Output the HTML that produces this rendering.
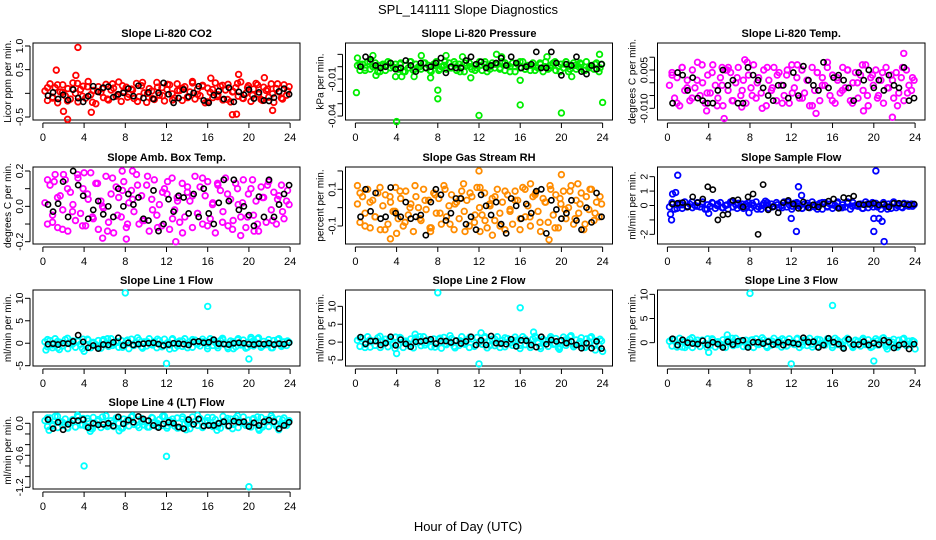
<!DOCTYPE html>
<html><head><meta charset="utf-8">
<style>
html,body{margin:0;padding:0;background:#fff;}
svg{display:block;font-family:"Liberation Sans",Arial,sans-serif;}
</style></head>
<body>
<svg id="chart" width="936" height="540" viewBox="0 0 936 540" xmlns="http://www.w3.org/2000/svg">
<text x="468" y="14" text-anchor="middle" font-size="13">SPL_141111  Slope Diagnostics</text>
<text x="468" y="531" text-anchor="middle" font-size="13">Hour of Day (UTC)</text>
</svg>
<script>
const hourTicks=[0,4,8,12,16,20,24];

// Panel 1: CO2 (ppm/min)
const co2Band=[.05,-.15,.2,-.08,.12,-.2,.03,.18,-.05,.1,-.12,.22,0,-.18,.08,.15,-.1,.25,-.03,.06,-.22,.14,.02,-.09,.19,-.14,.07,.11,-.06,.24,-.17,.04,.13,-.02,.09,-.11,.21,-.07,.16,.01,-.19,.1,.05,-.13,.23,-.04,.12,-.16,.08,.18,-.01,-.1,.2,.06,-.15,.14,-.08,.03,.25,-.12,.09,-.05,.17,-.2,.11,.02,-.09,.22,-.03,.15,-.14,.07,.19,-.18,.04,.12,-.06,.24,-.11,0,.16,-.17,.09,.21,-.02,-.13,.13,.06,-.08,.2,-.19,.1,.03,-.1,.18,-.04,.14];
const co2Band2=[.12,-.1,.18,.02,-.16,.09,.21,-.06,.14,-.19,.04,.1,-.12,.2,-.03,.16,-.08,.07,-.17,.23,.0,-.11,.13,-.05,.19,-.14,.06,.11,-.09,.22,-.02,.15,-.18,.08,-.07,.17,-.13,.03,.21,-.1,.12,-.04,.18,-.15,.09,-.01,.2,-.12,.05];
const co2OutX=[3.4,1.3,2.4,2.0,4.7,18.4,18.8,19.0,3.2,16.3,21.5,22.3];
const co2OutY=[.97,.49,-.55,-.38,-.4,-.45,-.44,.4,.38,.32,.33,-.36];
const co2Black=[-.05,.02,-.12,-.03,-.14,.08,-.1,-.18,-.06,.15,.03,.12,.14,-.08,-.02,.01,.1,-.06,.16,-.1,.02,-.12,.01,.22,-.02,-.2,-.1,.08,-.07,.01,.15,-.15,-.2,-.04,.05,-.12,.12,-.18,.03,-.03,.08,-.11,.02,-.15,-.16,-.09,.04,.1,-.02];

// Panel 2: Pressure (kPa/min)
const presBand=[.001,-.003,.002,-.001,.004,-.002,0,.003,-.004,.001,.002,-.003,.004,-.001,0,.002,-.002,.003,-.004,.001,-.001,.004,-.003,.002,0,-.002,.003,-.001,.001,-.004,.002,.004,-.003,0,.001,-.002,.003,-.001,.004,-.003,.002,0,-.004,.001,.003,-.002,.001,-.001,.004,-.003,.002,-.004,0,.003,-.001,.002,-.002,.004,-.003,.001,0,.003,-.004,.002,-.001,.004,-.002,.001,-.003,.003,0,-.001,.002,-.004,.004,-.002,.001,.003,-.003,0,.002,-.001,.004,-.004,.001,.003,-.002,0,.002,-.003,.004,-.001,.001,-.002,.003,-.004,.002];
const presBand2=[.002,-.003,.004,.0,-.004,.001,.003,-.001,.002,-.004,.004,-.002,.0,.003,-.003,.001,-.002,.004,-.001,.002,-.004,.003,.0,-.003,.001,.004,-.002,.002,-.001,.003,-.004,.0,.004,-.002,.001,-.003,.003,.0,-.001,.004,-.004,.002,-.002,.001,.003,-.003,.0,.002,-.001];
const presOutX=[0.1,0.2,1.7,4.0,4.5,3.9,8.0,8.0,8.8,12.0,11.2,13.7,14.2,16.0,16.0,20.0,23.7,24.0,6.4,2.0,5.7,7.3,10.4,18.6,21.0];
const presOutY=[-.021,.007,.009,-.0445,-.008,-.008,-.019,-.026,.009,-.0395,-.009,.010,.008,-.031,-.011,-.0375,.010,-.029,.009,-.007,-.008,-.009,.008,.008,-.008];
const presBlack=[0,.008,.006,.001,-.001,0,.003,-.002,-.001,.005,.001,-.004,.003,-.001,0,.003,.007,-.005,0,-.001,-.001,.005,.008,.002,.004,-.001,.001,.003,.007,.001,.008,.003,-.001,0,.002,.012,-.001,-.001,.012,.003,-.007,.002,.001,.008,-.004,-.006,.001,-.002,.002];

// Panel 3: Li-820 Temp (deg C/min)
const tempBand=[-.001,.004,-.006,.002,-.009,.006,-.003,.001,-.007,.005,-.002,.008,-.005,0,-.008,.003,-.004,.007,-.001,-.006,.002,-.009,.005,-.003,.004,-.007,0,.006,-.005,.001,-.008,.003,-.002,.007,-.006,.002,-.004,.005,-.009,.001,-.003,.006,-.007,.004,-.001,-.005,.003,-.008,.007,-.002,.002,-.006,.005,-.004,.001,-.009,.006,-.003,.004,-.007,.002,-.001,.008,-.005,.003,-.008,.001,-.004,.006,-.002,.005,-.007,0,.004,-.006,.003,-.003,.007,-.009,.002,-.001,.005,-.005,.001,-.008,.006,-.002,.003,-.006,.004,-.004,.002,-.007,.005,-.001,-.003,.001];
const tempBand2=[.003,-.008,.006,-.002,-.006,.001,.007,-.004,.004,-.009,-.001,.005,-.007,.002,-.003,.008,-.005,.0,-.01,.006,-.002,.003,-.008,.005,-.004,.007,-.006,.001,-.009,.004,-.001,.006,-.007,.002,-.003,.005,-.008,.0,.007,-.005,.003,-.006,.004,-.002,.001,-.009,.006,-.004,.002];
const tempOutX=[5.5,21.8,22.9,7.5,3.8,14.4,19.0,7.2,5.3,5.9];
const tempOutY=[-.014,-.0135,.0115,.009,-.011,-.012,-.011,-.0095,.006,.006];
const tempBlack=[-.008,.004,.003,-.003,.002,-.006,-.007,-.008,-.008,-.003,.005,-.001,.001,-.008,-.008,.006,.003,.001,-.002,-.005,-.007,-.001,-.001,-.006,.004,-.005,.0065,.001,-.001,-.003,.008,-.002,.002,.003,.001,-.002,-.007,.004,.001,.005,-.002,.001,-.003,.003,-.001,-.002,.006,-.007,-.006];

// Panel 4: Amb. Box Temp (deg C/min)
const ambBand=[.02,-.1,.12,-.05,.18,-.12,.06,-.02,.15,-.14,.08,.01,-.08,.16,-.04,.1,-.11,.04,.19,-.07,.13,-.13,.03,-.01,.17,-.09,.07,-.15,.11,.05,-.06,.14,-.12,.02,.09,-.03,.18,-.1,.06,-.08,.12,-.14,.04,.15,-.05,.01,-.11,.1,.07,-.13,.16,-.02,.05,-.09,.13,-.06,.08,.03,-.12,.17,-.04,.11,-.1,.06,.14,-.07,.02,-.15,.12,.09,-.03,.16,-.11,.04,-.08,.13,.01,-.06,.15,-.12,.07,.1,-.05,.03,-.14,.11,.05,-.09,.14,-.02,.08,-.1,.06,.12,-.07,.03,.01];
const ambBand2=[.15,-.09,.05,-.13,.1,-.03,.18,-.11,.07,-.06,.13,.0,-.14,.16,-.05,.09,-.1,.04,.12,-.08,.17,-.02,-.12,.08,.14,-.07,.03,-.15,.11,.06,-.04,.16,-.11,.01,.13,-.09,.07,-.13,.1,.02,-.06,.15,-.1,.05,.12,-.08,.04,-.03,.09];
const ambOutX=[2.0,4.0,8.7,7.7,5.8,12.9,19.2,8.1,1.1,20.5];
const ambOutY=[.18,.19,.2,.2,-.18,-.2,-.165,-.185,.14,-.14];
const ambBlack=[.01,-.03,.015,.14,-.06,.2,.12,.06,-.07,-.02,.03,-.045,.0,-.06,.1,.0,.07,.01,.05,-.07,-.08,.09,-.14,-.1,.04,-.03,.06,.05,-.04,.07,-.06,.1,-.04,-.1,.02,.15,.03,.15,-.02,.0,-.05,-.11,.055,-.06,.15,-.06,.01,.07,.12];

// Panel 5: Gas Stream RH (percent/min)
const rhBand=[.02,-.08,.06,-.03,.1,-.11,.04,-.05,.08,-.12,.01,.07,-.09,.03,-.02,.11,-.06,.05,-.1,.09,-.04,.02,-.13,.06,.0,-.07,.1,-.01,.04,-.11,.08,-.03,.05,-.09,.12,-.05,.01,.07,-.12,.03,-.06,.09,-.02,.04,-.1,.06,-.08,.11,.0,-.04,.08,-.11,.02,.05,-.07,.1,-.03,.03,-.12,.07,-.01,-.09,.09,.04,-.06,.11,-.05,.01,-.1,.06,.08,-.02,-.13,.05,.03,-.08,.1,-.04,.07,-.11,.02,.09,-.06,.0,.12,-.09,.04,-.03,.08,-.12,.06,-.01,.1,-.07,.03,-.05,.02];
const rhBand2=[.08,-.1,.03,-.05,.11,-.12,.06,-.02,.09,-.08,.0,.12,-.06,.04,-.11,.07,-.03,.1,-.09,.02,.05,-.13,.08,-.04,.11,-.07,.01,.06,-.1,.09,-.02,.04,-.12,.1,-.05,.07,-.08,.03,.12,-.11,.05,-.01,.09,-.06,.02,-.09,.1,-.03,.06];
const rhOutX=[12.0,20.0,3.4,18.8,4.0,21.6,0.2,10.5,17.0,12.1,13.3,7.3];
const rhOutY=[.2,.18,-.17,-.175,-.14,.13,.12,.13,.13,-.13,-.15,-.13];
const rhBlack=[-.05,.1,-.02,.08,-.06,-.05,.11,-.03,-.05,.03,-.06,-.05,-.04,-.15,.03,.1,.07,-.07,-.03,.05,.05,-.09,-.05,-.12,.07,.01,-.04,.03,-.09,-.14,.05,.01,-.06,.02,-.03,.09,.1,-.14,.04,-.01,-.06,-.03,.04,-.07,-.12,.0,-.08,.08,-.05];

// Panel 6: Sample Flow (mL/min/min)
const sfBand=[-.1,.2,-.25,.05,.15,-.2,.25,-.05,.1,-.15,0,.2,-.1,.25,-.25,.05,-.05,.15,-.2,.1,.2,-.15,0,-.25,.25,-.1,.05,.15,-.05,-.2,.1,.2,-.15,0,.25,-.1,-.25,.15,.05,-.2,.1,-.05,.2,-.15,0,.25,-.1,.05,-.25,.15,.2,-.05,-.2,.1,0,-.15,.25,-.1,.05,.15,-.25,.2,-.05,.1,-.2,0,.25,-.15,.05,-.1,.15,-.25,.2,0,-.05,.1,-.2,.25,-.15,.05,-.1,.15,0,-.25,.2,-.05,.1,-.2,.25,-.15,.05,-.1,.15,0,-.05,.1,.05];
const sfBand2=[.15,-.2,.05,-.1,.25,-.05,.1,-.25,.2,0,-.15,.05,.25,-.2,.1,-.05,.15,-.25,0,.2,-.1,.05,-.15,.25,-.05,.1,-.2,.15,0,-.25,.2,-.1,.05,.15,-.15,.25,-.05,0,-.2,.1,.2,-.1,.05,-.25,.15,0,-.15,.1,-.05];
const sfOutX=[1.0,20.2,21.0,12.5,20.0,0.4,0.5,12.7,0.8,4.0,12.0,20.0,20.5,20.8,13.0,0.3,9.5,7.9];
const sfOutY=[2.1,2.4,-2.5,-1.8,-1.8,-1.0,.8,1.3,.9,-.55,-.9,-.9,-.9,-1.1,.7,-.6,.3,-.5];
const sfBlack=[.1,.15,.2,-.1,.6,.2,.45,1.3,1.1,-1.0,-.65,-.6,.35,.4,-.1,.6,.8,-2.0,1.45,-.3,-.1,-.5,.2,.35,.1,-.2,.25,-.15,.05,-.1,.1,.3,.45,-.2,.55,.5,.65,.1,.05,.1,.15,.05,.1,-.1,.15,.15,.1,.05,.1];

// Panel 7: Line 1 Flow
const l1Band=[.3,-.8,.6,-.4,1,-1,.2,-.6,.8,-1.2,.1,.5,-.9,.4,-.2,.9,-.5,.7,-1,.2,-.3,.6,-1.1,.8,0,-.7,1,-.1,.4,-.9,.6,-.3,.5,-1.2,.9,-.5,.1,.7,-.8,.3,-.6,1,-.2,.4,-1,.6,-.8,.9,0,-.4,.8,-1.1,.2,.5,-.7,1,-.3,.3,-.9,.7,-.1,-.6,.9,.4,-.6,1,-.5,.1,-1,.6,.8,-.2,-1.2,.5,.3,-.8,1,-.4,.7,-1.1,.2,.9,-.6,0,1.2,-.9,.4,-.3,.8,-1,.6,-.1,1,-.7,.3,-.5,.2];
const l1Band2=[.8,-1,.4,-.6,1.1,-.2,.6,-1.2,.9,0,-.8,.5,1,-.5,.2,-.9,.7,-.3,1.2,-1.1,.3,-.4,.9,-.7,.1,1,-.6,.5,-1,.8,-.2,.3,-1.2,.6,-.5,1.1,-.8,.2,.7,-.3,-.9,.4,1,-.6,.1,-1,.8,-.4,.5];
const l1OutX=[8.0,16.0,12.0,20.0,4.0,1.6,12.3,20.2,0.3,18.5];
const l1OutY=[11.2,8.2,-4.5,-3.5,-1.8,-1.4,-1.3,1.3,-1.5,-1.2];
const l1Black=[-.2,-.1,-.3,0,-.1,.4,1.8,.3,-1,-.5,-1.2,-.3,-.4,.2,1.2,-.5,.1,-.4,-.2,-.1,0,.1,-.2,-.5,-.3,0,-.1,-.2,-.4,.3,.4,.1,.2,.8,-.1,-.2,-.3,0,.1,0,-.2,-.3,-.1,-.2,0,-.3,-.1,-.2,.1];

// Panel 8: Line 2 Flow
const l2Band=[.5,-1.2,1,-.6,1.5,-1.4,.3,-.9,1.2,-1.5,.1,.8,-1.3,.6,-.3,1.4,-.8,1.1,-1.5,.3,-.4,.9,-1.6,1.2,0,-1,1.5,-.2,.6,-1.3,.9,-.5,.8,-1.7,1.3,-.7,.2,1,-1.2,.4,-.9,1.5,-.3,.6,-1.5,.9,-1.2,1.3,0,-.6,1.2,-1.6,.3,.8,-1,1.5,-.4,.5,-1.3,1,-.2,-.9,1.4,.6,-.9,1.5,-.7,.2,-1.5,.9,1.2,-.3,-1.8,.8,.4,-1.2,1.5,-.6,1,-1.6,.3,1.4,-.9,0,1.8,-1.3,.6,-.5,1.2,-1.5,.9,-.2,1.5,-1,.4,-.8,.3];
const l2Band2=[1.2,-1.5,.6,-.9,1.6,-.3,.9,-1.8,1.3,0,-1.2,.7,1.5,-.8,.3,-1.4,1.1,-.5,1.8,-1.6,.4,-.6,1.4,-1,.2,1.5,-.9,.8,-1.5,1.2,-.3,.5,-1.8,.9,-.8,1.6,-1.2,.3,1,-.5,-1.3,.6,1.5,-.9,.2,-1.5,1.2,-.6,.8];
const l2OutX=[8.0,16.0,12.0,4.0,5.8,12.2,17.3,24.0,23.3,19.8];
const l2OutY=[13.8,9.6,-6.1,-3.2,2.2,2.6,2.8,-2.6,-2.2,-2.0];
const l2Black=[1.4,-.5,.3,.3,-.8,-.3,1.5,-.9,.7,-.5,-1.3,.1,.2,.4,.8,-.4,.3,.3,-.1,.4,-.4,.2,1.5,-.8,.5,-.8,1.7,-.3,-.4,-.6,.8,-1.2,.5,.4,-.8,-1.4,1.5,-.6,.6,.2,.5,-.3,.2,-.8,-1.7,-.3,-1.7,.2,-1.8];

// Panel 9: Line 3 Flow
const l3Band=[.3,-.7,.6,-.4,.9,-.9,.2,-.5,.7,-1,.1,.5,-.8,.4,-.2,.8,-.5,.6,-.9,.2,-.3,.6,-1,.7,0,-.6,.9,-.1,.4,-.8,.5,-.3,.5,-1,.8,-.4,.1,.6,-.7,.3,-.5,.9,-.2,.4,-.9,.5,-.7,.8,0,-.4,.7,-1,.2,.5,-.6,.9,-.3,.3,-.8,.6,-.1,-.5,.8,.4,-.5,.9,-.4,.1,-.9,.5,.7,-.2,-1,.5,.3,-.7,.9,-.4,.6,-1,.2,.8,-.5,0,1,-.8,.4,-.3,.7,-.9,.5,-.1,.9,-.6,.3,-.4,.2];
const l3Band2=[.7,-.9,.3,-.5,1,-.2,.5,-1,.8,0,-.7,.4,.9,-.4,.2,-.8,.6,-.3,1,-1,.3,-.4,.8,-.6,.1,.9,-.5,.4,-.9,.7,-.2,.3,-1,.5,-.4,.9,-.7,.2,.6,-.3,-.8,.4,.9,-.5,.1,-.9,.7,-.3,.4];
const l3OutX=[8.0,16.0,12.0,20.0,4.0,5.8,21.3,24.0,1.7,2.4];
const l3OutY=[10.2,7.7,-4.4,-3.8,-2.0,1.6,-1.3,-1.3,-1.0,1.0];
const l3Black=[.8,-.5,.6,0,-.2,-.3,.4,-.5,.1,-.3,-1,.2,-.4,.3,.5,-1,.1,.1,-.2,.2,-.4,.1,-.5,.1,-.1,-.3,1,.1,.2,-1,-.5,.9,.1,-.3,-1.2,.7,-.4,-.4,.2,-.5,-.1,-.4,.5,.1,-1.1,-.5,-.3,-1.3,-.3];

// Panel 10: Line 4 (LT) Flow
const l4Band=[.05,-.06,.1,-.02,.13,-.08,.03,-.04,.08,-.09,.01,.06,-.07,.12,-.03,.09,-.05,.04,-.1,.11,-.01,.07,-.08,.02,.14,-.04,.05,-.06,.1,.0,-.09,.08,.03,-.05,.12,-.02,.06,-.08,.09,-.03,.04,-.07,.11,.01,-.06,.07,-.04,.13,-.09,.05,.02,-.05,.1,-.08,.08,-.01,.06,-.1,.12,.03,-.04,.09,-.07,.04,.11,-.03,-.06,.07,.0,-.09,.13,.05,-.05,.08,-.02,.1,-.08,.03,.12,-.04,.06,-.07,.09,.01,-.1,.11,-.03,.07,-.06,.14,.02,-.05,.08,-.01,.1,-.04,.05];
const l4Band2=[.1,-.05,.13,.02,-.08,.07,.15,-.03,.09,-.1,.04,.12,-.06,.01,.11,-.09,.06,.14,-.04,.03,-.07,.1,.0,.13,-.05,.08,-.09,.12,.02,-.02,.15,-.08,.05,.11,-.06,.03,.09,-.1,.14,.01,-.04,.07,.12,-.07,.04,.1,-.03,.06,.0];
const l4OutX=[4.0,12.0,20.0,0.6,7.4,13.9,16.9,21.0,4.6,22.9];
const l4OutY=[-.8,-.62,-1.19,-.13,-.14,-.12,-.13,-.13,-.15,-.12];
const l4Black=[.07,-.1,.02,-.12,-.02,.05,.05,.07,-.08,.0,-.03,-.02,.0,-.05,.12,-.01,.06,.02,.13,.08,.05,-.04,-.08,-.01,.02,0,-.07,-.1,.07,-.02,.08,-.05,-.04,-.04,0,.03,-.05,.04,.02,.03,-.06,.01,-.04,.03,.06,.03,-.1,-.04,.02];

const colLeft=[33,345.5,657.5];
const colRight=[300,612.5,925];
const rowTop=[43,167,290,412];
const rowBottom=[120,244,366,489];

const panels=[
 {id:'co2',title:'Slope Li-820 CO2',ylab:'Licor ppm per min.',col:0,row:0,ymin:-.563,ymax:1.063,ticks:[1,.5,0,-.5],labels:['1.0','0.5','','-0.5'],color:'#ff0000',band:co2Band,band2:co2Band2,ox:co2OutX,oy:co2OutY,black:co2Black},
 {id:'pressure',title:'Slope Li-820 Pressure',ylab:'kPa per min.',col:1,row:0,ymin:-.0432,ymax:.0192,ticks:[.01,0,-.01,-.02,-.03,-.04],labels:['','','-0.01','','','-0.04'],color:'#00ee00',band:presBand,band2:presBand2,ox:presOutX,oy:presOutY,black:presBlack},
 {id:'temp',title:'Slope Li-820 Temp.',ylab:'degrees C per min.',col:2,row:0,ymin:-.01458,ymax:.01557,ticks:[.01,.005,0,-.005,-.01],labels:['','0.005','','','-0.010'],color:'#ff00ff',band:tempBand,band2:tempBand2,ox:tempOutX,oy:tempOutY,black:tempBlack},
 {id:'amb',title:'Slope Amb. Box Temp.',ylab:'degrees C per min.',col:0,row:1,ymin:-.213,ymax:.2226,ticks:[.2,.1,0,-.1,-.2],labels:['0.2','','0.0','','-0.2'],color:'#ff00ff',band:ambBand,band2:ambBand2,ox:ambOutX,oy:ambOutY,black:ambBlack},
 {id:'rh',title:'Slope Gas Stream RH',ylab:'percent per min.',col:1,row:1,ymin:-.198,ymax:.2215,ticks:[.2,.1,0,-.1],labels:['','0.1','','-0.1'],color:'#ff8c00',band:rhBand,band2:rhBand2,ox:rhOutX,oy:rhOutY,black:rhBlack},
 {id:'sample-flow',title:'Slope Sample Flow',ylab:'ml/min per min.',col:2,row:1,ymin:-2.67,ymax:2.67,ticks:[2,1,0,-1,-2],labels:['2','1','0','','-2'],color:'#0000ff',band:sfBand,band2:sfBand2,ox:sfOutX,oy:sfOutY,black:sfBlack},
 {id:'line1',title:'Slope Line 1 Flow',ylab:'ml/min per min.',col:0,row:2,ymin:-5.07,ymax:11.85,ticks:[10,5,0,-5],labels:['10','5','0','-5'],color:'#00ffff',band:l1Band,band2:l1Band2,ox:l1OutX,oy:l1OutY,black:l1Black},
 {id:'line2',title:'Slope Line 2 Flow',ylab:'ml/min per min.',col:1,row:2,ymin:-6.68,ymax:14.57,ticks:[10,5,0,-5],labels:['10','5','0','-5'],color:'#00ffff',band:l2Band,band2:l2Band2,ox:l2OutX,oy:l2OutY,black:l2Black},
 {id:'line3',title:'Slope Line 3 Flow',ylab:'ml/min per min.',col:2,row:2,ymin:-4.83,ymax:10.9,ticks:[10,5,0],labels:['10','5','0'],color:'#00ffff',band:l3Band,band2:l3Band2,ox:l3OutX,oy:l3OutY,black:l3Black},
 {id:'line4',title:'Slope Line 4 (LT) Flow',ylab:'ml/min per min.',col:0,row:3,ymin:-1.232,ymax:.212,ticks:[0,-.2,-.4,-.6,-.8,-1,-1.2],labels:['0.0','','','-0.6','','','-1.2'],color:'#00ffff',band:l4Band,band2:l4Band2,ox:l4OutX,oy:l4OutY,black:l4Black}
];

const NS='http://www.w3.org/2000/svg';
const svg=document.getElementById('chart');
function mk(tag,attrs,parent){const e=document.createElementNS(NS,tag);for(const k in attrs)e.setAttribute(k,attrs[k]);(parent||svg).appendChild(e);return e;}

panels.forEach(p=>{
 const L=colLeft[p.col],R=colRight[p.col],T=rowTop[p.row],B=rowBottom[p.row];
 const xs=h=>L+(h+0.96)/25.92*(R-L);
 const ys=v=>B-(v-p.ymin)/(p.ymax-p.ymin)*(B-T);
 const g=mk('g',{});
 
 
 const t=mk('text',{x:(L+R)/2,y:T-6,'text-anchor':'middle','font-size':'11','font-weight':'bold'},g);
 t.textContent=p.title;
 
 
 const yl=mk('text',{transform:`translate(${L-22},${(T+B)/2}) rotate(-90)`,'text-anchor':'middle','font-size':'10'},g);
 yl.textContent=p.ylab;
 
 
 const xa=mk('g',{},g);
 
 
 mk('line',{x1:xs(0),x2:xs(24),y1:B+3,y2:B+3,stroke:'#000','stroke-width':1},xa);
 hourTicks.forEach(h=>{
  mk('line',{x1:xs(h),x2:xs(h),y1:B+3,y2:B+8,stroke:'#000','stroke-width':1},xa);
  const tl=mk('text',{x:xs(h),y:B+21,'text-anchor':'middle','font-size':'11'},xa);
  tl.textContent=h;
  
  
 });
 const ya=mk('g',{},g);
 
 
 mk('line',{x1:L-3,x2:L-3,y1:ys(p.ticks[0]),y2:ys(p.ticks[p.ticks.length-1]),stroke:'#000','stroke-width':1},ya);
 p.ticks.forEach((v,i)=>{
  const y=ys(v);
  mk('line',{x1:L-8,x2:L-3,y1:y,y2:y,stroke:'#000','stroke-width':1},ya);
  if(p.labels[i]){
   const tl=mk('text',{transform:`translate(${L-10},${y}) rotate(-90)`,'text-anchor':'middle','font-size':'10.5'},ya);
   tl.textContent=p.labels[i];
   
   
  }
 });
 const box=mk('rect',{x:L,y:T,width:R-L,height:B-T,fill:'none',stroke:'#000','stroke-width':1},g);
 
 
 const pts=mk('g',{fill:'none'},g);
 
 
 const n=p.band.length;
 p.band.forEach((v,i)=>{
  const h=0.2+i*23.7/(n-1);
  const c=mk('circle',{cx:xs(h),cy:ys(v),r:2.8,stroke:p.color,'stroke-width':1.8},pts);
  
  
 });
 const n2=p.band2.length;
 p.band2.forEach((v,i)=>{
  const h=0.45+i*23.3/(n2-1);
  const c=mk('circle',{cx:xs(h),cy:ys(v),r:2.8,stroke:p.color,'stroke-width':1.8},pts);
  
  
 });
 p.ox.forEach((h,i)=>{
  const c=mk('circle',{cx:xs(h),cy:ys(p.oy[i]),r:2.8,stroke:p.color,'stroke-width':1.8},pts);
  
  
 });
 const m=p.black.length;
 p.black.forEach((v,i)=>{
  const h=0.5+i*23.4/(m-1);
  const c=mk('circle',{cx:xs(h),cy:ys(v),r:2.6,stroke:'#000','stroke-width':1.6},pts);
  
  
 });
});
</script>
</body></html>
